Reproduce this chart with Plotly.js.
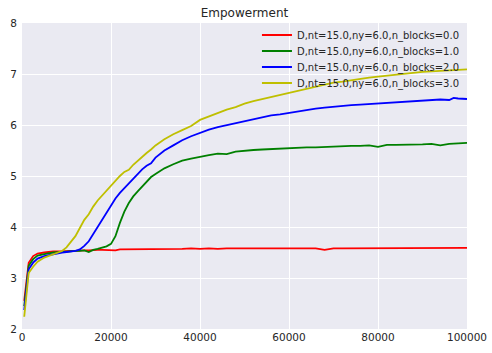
<!DOCTYPE html>
<html>
<head>
<meta charset="utf-8">
<script src="https://cdn.plot.ly/plotly-3.0.1.min.js"></script>
<style>
  body { margin: 0; background: #fff; }
  #chart { width: 492px; height: 353px; }
</style>
</head>
<body>
<div id="chart"></div>
<script>
// training steps (x) shared by all four runs
var steps = [500, 1500, 2500, 3500, 5000, 7000, 9000, 10000, 11000, 12000,
  13000, 14000, 15000, 16000, 17000, 18000, 19000, 20000, 21000, 22000,
  23000, 24000, 25000, 26000, 27000, 28000, 29000, 30000, 32000, 34000,
  36000, 38000, 40000, 42000, 44000, 46000, 48000, 50000, 52000, 54000,
  56000, 58000, 60000, 62000, 64000, 66000, 68000, 70000, 72000, 74000,
  76000, 78000, 80000, 82000, 84000, 86000, 88000, 90000, 92000, 94000,
  96000, 97000, 98000, 100000];

// empowerment per run
var blocks0 = [2.55, 3.3, 3.43, 3.48, 3.5, 3.52, 3.52, 3.53, 3.53, 3.53,
  3.54, 3.54, 3.54, 3.55, 3.55, 3.55, 3.55, 3.55, 3.54, 3.56,
  3.56, 3.56, 3.56, 3.56, 3.57, 3.57, 3.57, 3.57, 3.57, 3.57,
  3.57, 3.58, 3.57, 3.58, 3.57, 3.58, 3.58, 3.58, 3.58, 3.58,
  3.58, 3.57, 3.58, 3.58, 3.58, 3.58, 3.55, 3.58, 3.58, 3.58,
  3.58, 3.58, 3.58, 3.58, 3.59, 3.58, 3.59, 3.59, 3.59, 3.59,
  3.59, 3.59, 3.59, 3.59];

var blocks1 = [2.45, 3.24, 3.37, 3.44, 3.47, 3.5, 3.51, 3.52, 3.52, 3.53,
  3.53, 3.54, 3.51, 3.55, 3.57, 3.59, 3.62, 3.67, 3.82, 4.08,
  4.3, 4.47, 4.6, 4.7, 4.8, 4.9, 4.98, 5.04, 5.15, 5.23,
  5.3, 5.34, 5.38, 5.41, 5.44, 5.43, 5.48, 5.5, 5.51, 5.52,
  5.53, 5.54, 5.54, 5.55, 5.56, 5.56, 5.57, 5.58, 5.58, 5.59,
  5.59, 5.6, 5.57, 5.61, 5.61, 5.61, 5.62, 5.62, 5.63, 5.6,
  5.63, 5.64, 5.64, 5.65];

var blocks2 = [2.37, 3.17, 3.3, 3.38, 3.43, 3.47, 3.5, 3.51, 3.52, 3.53,
  3.56, 3.63, 3.72, 3.86, 4.0, 4.14, 4.3, 4.44, 4.56, 4.67,
  4.76, 4.87, 4.96, 5.05, 5.13, 5.2, 5.25, 5.36, 5.5, 5.6,
  5.7, 5.78, 5.85, 5.91, 5.96, 6.0, 6.04, 6.08, 6.12, 6.15,
  6.19, 6.21, 6.24, 6.27, 6.3, 6.32, 6.34, 6.36, 6.37, 6.39,
  6.4, 6.41, 6.42, 6.43, 6.45, 6.46, 6.47, 6.48, 6.49, 6.5,
  6.49, 6.53, 6.52, 6.51];

var blocks3 = [2.24, 3.1, 3.22, 3.32, 3.4, 3.46, 3.53, 3.6, 3.7, 3.82,
  3.98, 4.14, 4.25, 4.4, 4.52, 4.62, 4.72, 4.82, 4.92, 5.0,
  5.08, 5.12, 5.22, 5.3, 5.38, 5.45, 5.52, 5.6, 5.72, 5.82,
  5.9, 5.98, 6.1, 6.17, 6.24, 6.3, 6.35, 6.42, 6.47, 6.51,
  6.55, 6.6, 6.63, 6.67, 6.72, 6.76, 6.8, 6.83, 6.85, 6.88,
  6.91, 6.93, 6.95, 6.97, 6.99, 7.01, 7.02, 7.04, 7.05, 7.06,
  7.07, 7.08, 7.08, 7.09];

var names = ["D,nt=15.0,ny=6.0,n_blocks=0.0", "D,nt=15.0,ny=6.0,n_blocks=1.0",
  "D,nt=15.0,ny=6.0,n_blocks=2.0", "D,nt=15.0,ny=6.0,n_blocks=3.0"];
var series = [blocks0, blocks1, blocks2, blocks3];
var colors = ["#ff0000", "#008000", "#0000ff", "#bfbf00"];
var legendIds = ["legend", "legend2", "legend3", "legend4"];

var data = series.map(function (ys, i) {
  return {
    x: steps,
    y: ys,
    name: names[i],
    legend: legendIds[i],
    type: "scatter",
    mode: "lines",
    line: {color: colors[i], width: 1.8}
  };
});

var font = {family: "DejaVu Sans, sans-serif", size: 10, color: "#262626"};

// one small legend per run so the rows sit tighter, like matplotlib's
function legendAt(y) {
  return {
    x: 0.528, xanchor: "left", y: y, yanchor: "middle",
    bgcolor: "rgba(0,0,0,0)", borderwidth: 0, font: font
  };
}

var layout = {
  width: 492,
  height: 353,
  margin: {l: 22, r: 25, t: 23, b: 24},
  paper_bgcolor: "#ffffff",
  plot_bgcolor: "#eaeaf2",
  font: font,
  title: {text: "Empowerment", font: {family: "DejaVu Sans, sans-serif", size: 12, color: "#262626"},
    x: 0.5, xref: "paper", y: 0.963, yanchor: "middle"},
  xaxis: {
    range: [0, 100000], dtick: 20000, tickformat: "d",
    showgrid: true, gridcolor: "#ffffff", gridwidth: 1,
    zeroline: false, showline: false, ticks: "",
    tickfont: {family: font.family, size: 10.5, color: font.color}
  },
  yaxis: {
    range: [2, 8], dtick: 1,
    showgrid: true, gridcolor: "#ffffff", gridwidth: 1,
    zeroline: false, showline: false, ticks: "", ticklabelstandoff: 4,
    tickfont: {family: font.family, size: 10.5, color: font.color}
  },
  showlegend: true,
  legend: legendAt(0.9608),
  legend2: legendAt(0.9085),
  legend3: legendAt(0.8562),
  legend4: legendAt(0.8039)
};

Plotly.newPlot("chart", data, layout, {displayModeBar: false, staticPlot: true});
</script>
</body>
</html>
